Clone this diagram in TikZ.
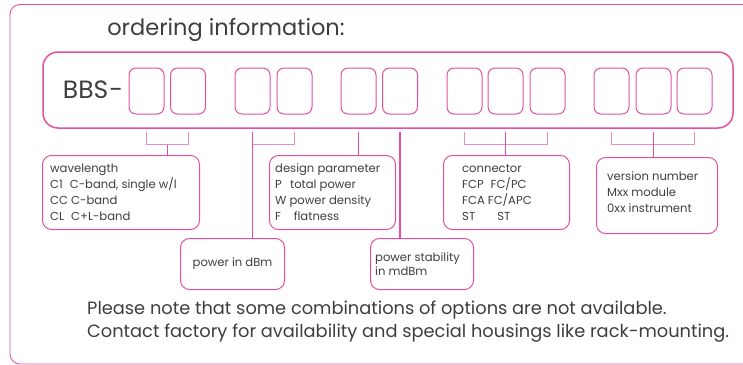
\documentclass[tikz,border=0pt]{standalone}
\usepackage{fontspec}
\setmainfont{Poppins}
\usepackage{tikz}
\usetikzlibrary{calc}

\definecolor{bbspink}{RGB}{228,80,155}
\definecolor{bbslight}{RGB}{238,140,190}
\definecolor{bbsgray}{RGB}{62,62,62}

\tikzset{
  frame/.style={draw=bbspink, line width=0.9pt, rounded corners=10pt},
  slot/.style={draw=bbspink, line width=1pt, rounded corners=7pt, minimum width=35pt, minimum height=46pt},
  infobox/.style={draw=bbspink, line width=1pt, rounded corners=9pt, anchor=north west},
  infotext/.style={text=bbsgray, font=\fontsize{11.6}{16}\selectfont, align=left, inner sep=0pt, anchor=west},
  brace/.style={draw=bbslight, line width=0.8pt},
  stem/.style={draw=bbspink, line width=1.1pt},
}

\begin{document}
\begin{tikzpicture}[x=1pt, y=-1pt]

\useasboundingbox (0,0) rectangle (743,364);
\clip (0,0) rectangle (743,364);

% outer frame
\draw[frame] (10,4.5) rectangle (780,364);

% title
\node[text=bbsgray, font=\fontsize{22.5}{26}\selectfont] (title) at (226,30) {ordering information:};

% code box
\node[draw=bbspink, line width=1.5pt, rounded corners=15pt, minimum width=690pt, minimum height=76pt] (code) at (388,90) {};
\node[text=bbsgray, font=\fontsize{25}{30}\selectfont] (bbs) at (93,90) {BBS\kern1pt-};

% slots
\node[slot] (b1) at (146.5,91) {};
\node[slot] (b2) at (188,91) {};
\node[slot] (b3) at (252.5,91) {};
\node[slot] (b4) at (294.5,91) {};
\node[slot] (b5) at (358.5,91) {};
\node[slot] (b6) at (400,91) {};
\node[slot] (b7) at (464.5,91) {};
\node[slot] (b8) at (505.5,91) {};
\node[slot] (b9) at (547.5,91) {};
\node[slot] (b10) at (611.5,91) {};
\node[slot] (b11) at (653.5,91) {};
\node[slot] (b12) at (694.5,91) {};

% info boxes
\node[infobox, minimum width=157pt, minimum height=74pt] (wave) at (42,155) {};
\node[infotext] (wavetxt) at ([xshift=8pt]wave.west) {wavelength\\C1\hspace{0.6em}C-band, single w/l\\CC C-band\\CL\hspace{0.6em}C+L-band};

\node[infobox, minimum width=126pt, minimum height=74pt] (design) at (269,155) {};
\node[infotext] (designtxt) at ([xshift=6pt]design.west) {design parameter\\P\hspace{0.7em}total power\\W power density\\F\hspace{1.1em}flatness};

\node[infobox, minimum width=126pt, minimum height=74pt] (conn) at (443,155) {};
\node[infotext] (conntxt) at ([xshift=19pt]conn.west) {connector\\FCP\hspace{0.6em}FC/PC\\FCA FC/APC\\ST\hspace{1.9em}ST};

\node[infobox, minimum width=121pt, minimum height=76pt] (version) at (596,157) {};
\node[infotext] (versiontxt) at ([xshift=11pt,yshift=3pt]version.west) {version number\\Mxx module\\0xx instrument};

\node[infobox, minimum width=104pt, minimum height=51pt] (dbm) at (180,238) {};
\node[infotext, anchor=center] (dbmtxt) at (dbm.center) {power in dBm};

\node[infobox, minimum width=103pt, minimum height=51pt] (stab) at (370,238) {};
\node[infotext, font=\fontsize{11.6}{14.5}\selectfont] (stabtxt) at ([xshift=5pt]stab.west) {power stability\\in mdBm};

% brackets
\draw[brace] ([yshift=-3pt]code.south -| b1) |- ([yshift=-16pt]code.south -| b2) -- ([yshift=-3pt]code.south -| b2);
\draw[brace] ([yshift=-3pt]code.south -| b3) |- ([yshift=-16pt]code.south -| b4) -- ([yshift=-3pt]code.south -| b4);
\draw[brace] ([yshift=-3pt]code.south -| b7) |- ([yshift=-16pt]code.south -| b9) -- ([yshift=-3pt]code.south -| b9);
\draw[brace] ([yshift=-3pt]code.south -| b10) |- ([yshift=-16pt]code.south -| b12) -- ([yshift=-3pt]code.south -| b12);

% stems
\coordinate (m1) at ($([yshift=-16pt]code.south -| b1)!0.5!([yshift=-16pt]code.south -| b2)$);
\draw[stem] (m1) -- (m1 |- wave.north);
\draw[stem] ([yshift=-3pt]code.south -| b3) -- (b3 |- dbm.north);
\draw[stem] ([yshift=-3pt]code.south -| b5) -- (b5 |- design.north);
\draw[stem] ([yshift=-3pt]code.south -| b6) -- (b6 |- stab.north);
\draw[stem] ([yshift=-3pt]code.south -| b8) -- (b8 |- conn.north);
\draw[stem] ([yshift=-3pt]code.south -| b11) -- (b11 |- version.north);

% note
\node[infotext, font=\fontsize{17.8}{23}\selectfont] (note) at (87,321.5) {Please note that some combinations of options are not available.\\Contact factory for availability and special housings like rack-mounting.};

\end{tikzpicture}
\end{document}
